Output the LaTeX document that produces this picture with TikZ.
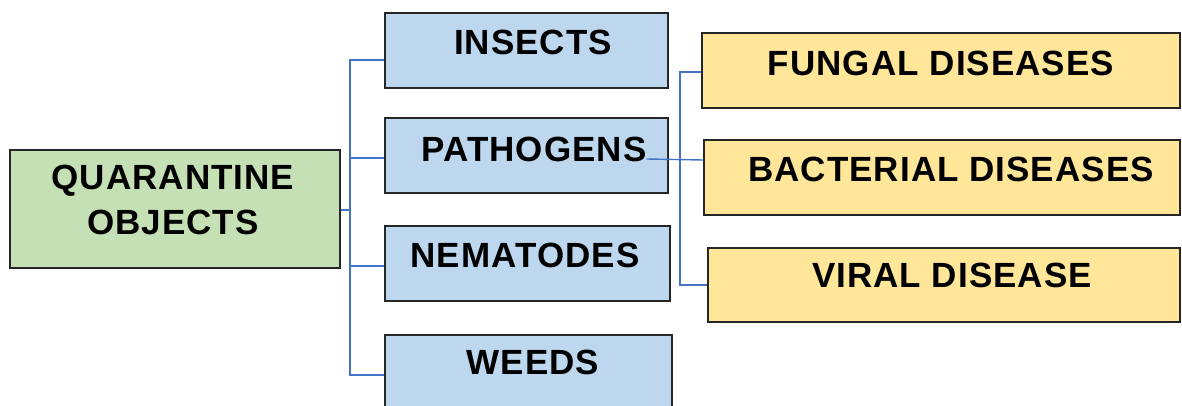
\documentclass[tikz,border=0pt]{standalone}
\usepackage{fontspec}
\setmainfont{Liberation Sans}
\newfontfamily\lblfont[LetterSpace=3]{Liberation Sans}
\begin{document}
\begin{tikzpicture}[x=1pt,y=-1pt,
  box/.style={draw=black!85,line width=1.3pt,inner sep=0pt},
  bluebox/.style={box,fill=blue1},
  greenbox/.style={box,fill=green1},
  yellowbox/.style={box,fill=yellow1},
  lbl/.style={font=\lblfont\fontsize{35}{42}\selectfont\bfseries,inner sep=0pt,text=black},
  link/.style={draw=link1,line width=1.4pt}]
\definecolor{blue1}{HTML}{BDD7EE}
\definecolor{green1}{HTML}{C5E0B4}
\definecolor{yellow1}{HTML}{FFE699}
\definecolor{link1}{HTML}{4472C4}
\useasboundingbox (0,0) rectangle (1182,405);
% junctions
\coordinate (j1) at (350,210);
\coordinate (j2) at (680,160);
% boxes
\node[greenbox,minimum width=330pt,minimum height=118pt] (q) at (175,209) {};
\node[bluebox,minimum width=283pt,minimum height=75pt] (ins) at (526.5,50.5) {};
\node[bluebox,minimum width=283pt,minimum height=75pt] (pat) at (526.5,155.5) {};
\node[bluebox,minimum width=285pt,minimum height=75pt] (nem) at (527.5,263.5) {};
\node[bluebox,minimum width=287pt,minimum height=80pt] (wee) at (528.5,375) {};
\node[yellowbox,minimum width=478pt,minimum height=75pt] (fun) at (941,70.5) {};
\node[yellowbox,minimum width=476pt,minimum height=75pt] (bac) at (942,177.5) {};
\node[yellowbox,minimum width=472pt,minimum height=74pt] (vir) at (944,285) {};
% texts
\node[lbl] (tq1) at (173,181) {QUARANTINE};
\node[lbl] (tq2) at (173,222) {OBJECTS};
\node[lbl] (tins) at (533,42) {INSECTS};
\node[lbl] (tpat) at (534,149) {PATHOGENS};
\node[lbl] (tnem) at (525,255) {NEMATODES};
\node[lbl] (twee) at (533,362) {WEEDS};
\node[lbl] (tfun) at (941,63) {FUNGAL DISEASES};
\node[lbl] (tbac) at (951,169) {BACTERIAL DISEASES};
\node[lbl] (tvir) at (952,275) {VIRAL DISEASE};
% links
\draw[link] (q.east |- j1) -- (j1);
\draw[link] (ins.west |- 0,60) -| (j1) |- (wee.west |- 0,375);
\draw[link] (j1 |- 0,158) -- (pat.west |- 0,158);
\draw[link] (j1 |- 0,266) -- (nem.west |- 0,266);
\draw[link] (tpat.east |- 0,159) -- (bac.west |- 0,160);
\draw[link] (fun.west |- 0,72) -| (j2) |- (vir.west |- 0,285);
\end{tikzpicture}
\end{document}
